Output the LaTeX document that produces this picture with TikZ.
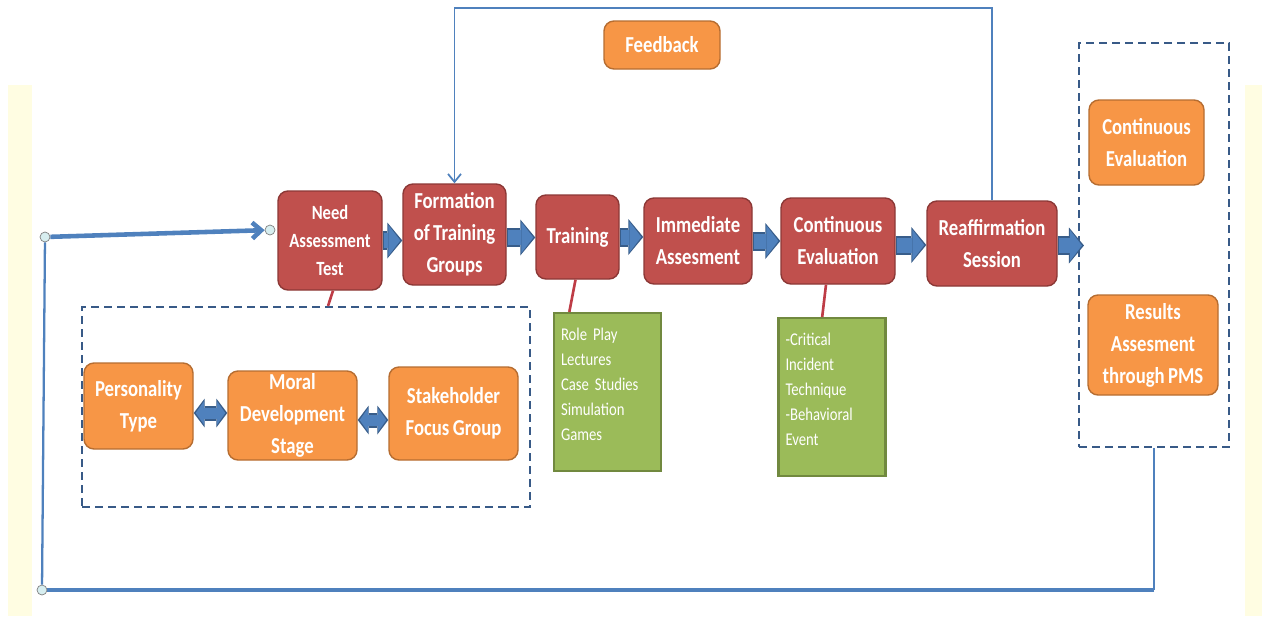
\documentclass[tikz,border=0pt]{standalone}
\usepackage{fontspec}
\setmainfont{Carlito}[FakeStretch=0.82,WordSpace=0.8]
\usetikzlibrary{arrows.meta,calc,positioning}
\definecolor{cred}{RGB}{192,80,77}
\definecolor{credD}{RGB}{140,56,54}
\definecolor{corg}{RGB}{247,150,70}
\definecolor{corgD}{RGB}{182,109,49}
\definecolor{cgrn}{RGB}{155,187,89}
\definecolor{cgrnD}{RGB}{113,137,63}
\definecolor{cblu}{RGB}{79,129,189}
\definecolor{cbluD}{RGB}{56,93,138}
\definecolor{cdsh}{RGB}{56,90,135}
\definecolor{ctie}{RGB}{190,60,70}
\definecolor{cyel}{RGB}{255,253,226}
\definecolor{cjnt}{RGB}{215,238,240}

\begin{document}
\begin{tikzpicture}[
  redbox/.style={draw=credD,fill=cred,thick,rounded corners=0.2cm,text=white,align=center,
    inner sep=1pt,font=\fontsize{13}{18.2}\selectfont\bfseries},
  orgbox/.style={draw=corgD,fill=corg,thick,rounded corners=0.2cm,text=white,align=center,
    inner sep=1pt,font=\fontsize{13}{18.2}\selectfont\bfseries},
  grnbox/.style={draw=cgrnD,fill=cgrn,line width=1.2pt,text=white,align=left,
    inner xsep=0.14cm,text width=1.86cm,minimum height=3.16cm,font=\fontsize{10.2}{14.2}\selectfont},
  dashbox/.style={draw=cdsh,line width=1.2pt,dash pattern=on 0.16cm off 0.1cm},
  blk/.style={preaction={draw=cbluD,line width=0.38cm,shorten >=0pt,shorten <=0pt,
      -{Triangle[width=0.72cm,length=0.30cm,line width=0pt]}},
    draw=cblu,line width=0.30cm,shorten >=0.04cm,shorten <=0.02cm,
    -{Triangle[width=0.62cm,length=0.24cm,line width=0pt]}},
  dblk/.style={preaction={draw=cbluD,line width=0.30cm,shorten >=0pt,shorten <=0pt,
      {Triangle[width=0.58cm,length=0.22cm,line width=0pt]}-{Triangle[width=0.58cm,length=0.22cm,line width=0pt]}},
    draw=cblu,line width=0.22cm,shorten >=0.04cm,shorten <=0.04cm,
    {Triangle[width=0.48cm,length=0.17cm,line width=0pt]}-{Triangle[width=0.48cm,length=0.17cm,line width=0pt]}},
  tie/.style={ctie,line width=1.5pt},
  fbline/.style={cblu,line width=1pt,-{Straight Barb[length=1.6mm,width=2.6mm]}},
  loopline/.style={cblu,line width=1.3pt},
  loopthick/.style={cblu,line width=2.6pt},
  joint/.style={circle,draw=gray,fill=cjnt,minimum size=0.2cm,inner sep=0pt},
]

% frame and pale side strips
\useasboundingbox (0,0) rectangle (25.24,-12.32);
\fill[cyel] (0.16,-1.70) rectangle (0.64,-12.32);
\fill[cyel] (24.90,-1.70) rectangle (25.24,-12.32);

% ============================ main chain ============================
\node[redbox,minimum width=2.08cm,minimum height=1.98cm,font=\fontsize{11.5}{16.2}\selectfont\bfseries]
  (need) at (6.60,-4.81) {Need\\Assessment\\Test};
\node[redbox,minimum width=2.06cm,minimum height=2.02cm] (form) at (9.09,-4.69) {Formation\\of Training\\Groups};
\node[redbox,minimum width=1.66cm,minimum height=1.68cm] (train) at (11.55,-4.74) {Training};
\node[redbox,minimum width=2.16cm,minimum height=1.72cm] (immed) at (13.96,-4.82) {Immediate\\Assesment};
\node[redbox,minimum width=2.28cm,minimum height=1.72cm] (conti) at (16.76,-4.82) {Continuous\\Evaluation};
\node[redbox,minimum width=2.60cm,minimum height=1.70cm] (reaff) at (19.84,-4.87) {Reaffirmation\\Session};

\node[orgbox,minimum width=2.32cm,minimum height=0.96cm] (fback) at (13.24,-0.90) {Feedback};

% outcome group (right)
\node[dashbox,minimum width=3.00cm,minimum height=8.08cm] (outbox) at (23.08,-4.90) {};
\node[orgbox,minimum width=2.30cm,minimum height=1.70cm] (ceval) at (22.93,-2.85) {Continuous\\Evaluation};
\node[orgbox,minimum width=2.60cm,minimum height=2.00cm] (result) at (23.06,-6.90) {Results\\Assesment\\through PMS};

% block arrows along the chain
\draw[blk] (need.east) -- (need.east -| form.west);
\draw[blk] ([yshift=-0.06cm]form.east) -- ([yshift=-0.06cm]form.east -| train.west);
\draw[blk] (train.east) -- (train.east -| immed.west);
\draw[blk] (immed.east) -- (immed.east -| conti.west);
\draw[blk] ([yshift=-0.08cm]conti.east) -- ([yshift=-0.08cm]conti.east -| reaff.west);
\draw[blk] ([yshift=-0.04cm]reaff.east) -- ([yshift=-0.04cm,xshift=0.12cm]reaff.east -| outbox.west);

% feedback loop over the top
\coordinate (fbtop) at (0,-0.16);
\draw[fbline] (reaff.north) -- (reaff.north |- fbtop) -| (form.north);

% ============================ factors group (left) ============================
\node[dashbox,minimum width=8.96cm,minimum height=4.00cm] (factors) at (6.12,-8.14) {};
\node[orgbox,minimum width=2.18cm,minimum height=1.72cm] (person) at (2.77,-8.12) {Personality\\Type};
\node[orgbox,minimum width=2.58cm,minimum height=1.78cm] (moral) at (5.85,-8.31) {Moral\\Development\\Stage};
\node[orgbox,minimum width=2.58cm,minimum height=1.86cm] (stake) at (9.07,-8.27) {Stakeholder\\Focus Group};

\draw[dblk] ([yshift=-0.14cm]person.east) -- ([yshift=-0.14cm]person.east -| moral.west);
\draw[dblk] ([yshift=-0.09cm]moral.east) -- ([yshift=-0.09cm]moral.east -| stake.west);

\draw[tie] ([xshift=0.06cm]need.south) -- ([xshift=-0.04cm]need.south |- factors.north);

% ============================ method notes ============================
\node[grnbox] (tools) at (12.15,-7.84) {Role Play\\Lectures\\Case Studies\\Simulation\\Games\\[-0.2cm]~};
\node[grnbox] (evmeth) at (16.64,-7.94) {-Critical\\Incident\\Technique\\-Behavioral\\Event\\[-0.2cm]~};

\draw[tie] ([xshift=-0.04cm]train.south) -- ($(tools.north west)!0.15!(tools.north east)$);
\draw[tie] ([xshift=-0.24cm]conti.south) -- ($(evmeth.north west)!0.41!(evmeth.north east)$);

% ============================ return loop ============================
\node[joint] (jbot) at (0.84,-11.80) {};
\node[joint] (jtop) at (0.90,-4.74) {};
\node[joint] (jin) at (5.40,-4.60) {};
\coordinate (turn) at (outbox.south |- jbot);
\draw[loopline] (outbox.south) -- (turn);
\draw[loopthick] (turn) -- (jbot);
\draw[loopline] (jbot) -- (jtop);
\draw[loopthick,-{Straight Barb[length=1.8mm,width=3.2mm]}] (jtop) -- (jin);

\end{tikzpicture}
\end{document}
